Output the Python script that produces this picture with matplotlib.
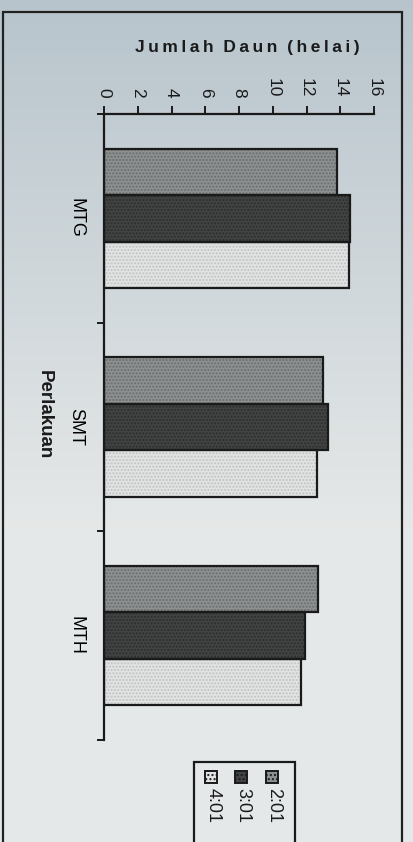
import numpy as np
import matplotlib
matplotlib.use('Agg')
import matplotlib.pyplot as plt
from matplotlib.patches import Rectangle

plt.rcParams['font.family'] = ['Liberation Sans', 'DejaVu Sans']

# jumlah daun per perlakuan
perlakuan = ['MTG', 'SMT', 'MTH']
seri = ['2:01', '3:01', '4:01']
daun_201 = [13.8, 13.0, 12.7]
daun_301 = [14.6, 13.3, 11.9]
daun_401 = [14.5, 12.6, 11.7]
xticks = [0, 2, 4, 6, 8, 10, 12, 14, 16]

warna = ['#8e9192', '#424444', '#e2e4e4']
titik = ['#6a6c6d', '#2c2e2e', '#bfc2c2']

W, H = 413, 842
fig = plt.figure(figsize=(W / 100, H / 100), dpi=100)

# latar kertas (sedikit kebiruan di bagian atas)
bg = fig.add_axes([0, 0, 1, 1], zorder=-5)
grad = np.linspace(0, 1, 256).reshape(-1, 1)
c_top = np.array([0.72, 0.77, 0.80])
c_bot = np.array([0.90, 0.91, 0.91])
t = np.clip(grad * 1.6, 0, 1)
img = c_top * (1 - t) + c_bot * t
bg.imshow(img.reshape(256, 1, 3), aspect='auto', extent=[0, 1, 0, 1])
bg.axis('off')

# bingkai luar
fig.patches.append(Rectangle((3 / W, -0.05), 399 / W, 1.05 - 12 / H,
                             transform=fig.transFigure, fill=False,
                             edgecolor='#222222', linewidth=1.6))

ax = fig.add_axes([104 / W, 1 - 740 / H, 270 / W, 626 / H])
ax.patch.set_alpha(0)

y = np.arange(len(perlakuan))
w = 0.223
for i, vals in enumerate([daun_201, daun_301, daun_401]):
    pos = y + (i - 1) * w
    ax.barh(pos, vals, height=w, color=warna[i], edgecolor=titik[i],
            hatch='.....', linewidth=0, zorder=2)
    ax.barh(pos, vals, height=w, fill=False, edgecolor='#1a1a1a',
            linewidth=1.6, zorder=3)

ax.set_xlim(0, 16)
ax.set_ylim(2.5, -0.5)
ax.xaxis.tick_top()
ax.set_xticks(xticks)
ax.set_xticklabels([str(v) for v in xticks], rotation=-90, fontsize=12.5)
ax.tick_params(axis='x', direction='out', length=6, width=1.4, pad=6,
               colors='#1a1a1a')
ax.set_yticks(y)
ax.set_yticklabels(perlakuan, rotation=-90, fontsize=13, va='center')
ax.tick_params(axis='y', which='major', length=0, pad=14)
ax.set_yticks([-0.5, 0.5, 1.5, 2.5], minor=True)
ax.tick_params(axis='y', which='minor', direction='out', length=5,
               width=1.4, colors='#1a1a1a')
for s in ['right', 'bottom']:
    ax.spines[s].set_visible(False)
for s in ['top', 'left']:
    ax.spines[s].set_linewidth(1.6)
    ax.spines[s].set_color('#1a1a1a')

# judul sumbu nilai dengan jarak huruf renggang
judul = 'Jumlah Daun (helai)'
renggang = '  '.join('\u2009'.join(k) for k in judul.split(' '))
ax.text(0.53, 1.107, renggang,
        transform=ax.transAxes, ha='center', va='center',
        fontsize=12.5, fontweight='bold', color='#1a1a1a')
ax.text((44 - 104) / 270, 1 - (415 - 114) / 626, 'Perlakuan',
        transform=ax.transAxes, ha='center', va='center', rotation=-90,
        fontsize=13.5, fontweight='bold', color='#1a1a1a')

# legenda (diputar)
fig.patches.append(Rectangle((194 / W, -0.05), 101 / W, 0.05 + 1 - 762 / H,
                             transform=fig.transFigure, fill=False,
                             edgecolor='#1a1a1a', linewidth=1.6))
lx = [272, 241, 211]
for i, nama in enumerate(seri):
    fig.patches.append(Rectangle(((lx[i] - 6) / W, 1 - 783 / H),
                                 12 / W, 12 / H, transform=fig.transFigure,
                                 facecolor=warna[i], edgecolor='#1a1a1a',
                                 linewidth=1.4, hatch='....'))
    fig.text((lx[i] + 2) / W, 1 - 788 / H, nama, rotation=-90,
             ha='center', va='top', fontsize=13, color='#1a1a1a')

fig.savefig('out.png', dpi=100)
